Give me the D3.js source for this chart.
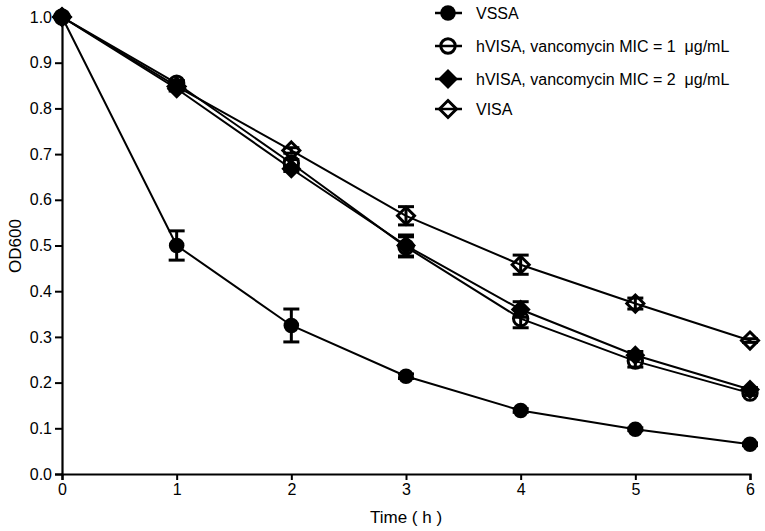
<!DOCTYPE html>
<html>
<head>
<meta charset="utf-8">
<script src="https://cdn.jsdelivr.net/npm/d3@7"></script>
<style>
  body { margin: 0; background: #fff; }
  svg { display: block; }
  text { font-family: "Liberation Sans", Arial, sans-serif; fill: #000; }
</style>
</head>
<body>
<svg id="chart" width="765" height="531"></svg>
<script>
const times = [0, 1, 2, 3, 4, 5, 6];
const xTicks = [0, 1, 2, 3, 4, 5, 6];
const yTicks = [0.0, 0.1, 0.2, 0.3, 0.4, 0.5, 0.6, 0.7, 0.8, 0.9, 1.0];

const seriesNames = ["VSSA", "hVISA, vancomycin MIC = 1 \u00a0\u03bcg/mL", "hVISA, vancomycin MIC = 2 \u00a0\u03bcg/mL", "VISA"];
const seriesSymbols = ["circleFilled", "circleOpen", "diamondFilled", "diamondOpen"];

const vssaValues   = [1.0, 0.500, 0.325, 0.214, 0.139, 0.098, 0.065];
const vssaErrors   = [0, 0.032, 0.036, 0.005, 0.004, 0.003, 0.003];
const mic1Values   = [1.0, 0.855, 0.680, 0.497, 0.340, 0.247, 0.177];
const mic1Errors   = [0, 0.006, 0.008, 0.022, 0.020, 0.013, 0.005];
const mic2Values   = [1.0, 0.843, 0.668, 0.500, 0.360, 0.260, 0.185];
const mic2Errors   = [0, 0.005, 0.006, 0.023, 0.017, 0.008, 0.004];
const visaValues   = [1.0, 0.848, 0.708, 0.565, 0.458, 0.373, 0.292];
const visaErrors   = [0, 0.005, 0.006, 0.020, 0.021, 0.012, 0.004];

const seriesValues = [vssaValues, mic1Values, mic2Values, visaValues];
const seriesErrors = [vssaErrors, mic1Errors, mic2Errors, visaErrors];

const svg = d3.select("#chart");
const x = d3.scaleLinear().domain([0, 6]).range([62, 750]);
const y = d3.scaleLinear().domain([0, 1]).range([474, 17]);

// Axes
const xAxis = svg.append("g").attr("transform", "translate(0,474)")
  .call(d3.axisBottom(x).tickValues(xTicks).tickFormat(d3.format("d")).tickSizeOuter(0).tickSize(6).tickPadding(4));
const yAxis = svg.append("g").attr("transform", "translate(62,0)")
  .call(d3.axisLeft(y).tickValues(yTicks).tickFormat(d3.format(".1f")).tickSizeOuter(0).tickSize(7).tickPadding(3));
[xAxis, yAxis].forEach(a => {
  a.select(".domain").attr("stroke", "#000").attr("stroke-width", 2.2);
  a.selectAll(".tick line").attr("stroke", "#000").attr("stroke-width", 2);
  a.selectAll(".tick text").style("font-size", "16px").style("font-family", "Liberation Sans, Arial, sans-serif").attr("fill", "#000");
});

// Axis titles
svg.append("text").attr("x", 406).attr("y", 523).attr("text-anchor", "middle")
  .style("font-size", "17px").text("Time ( h )");
svg.append("text").attr("transform", "translate(21,246) rotate(-90)").attr("text-anchor", "middle")
  .style("font-size", "17px").text("OD600");

// Symbol drawing
function drawSymbol(g, type, cx, cy) {
  if (type.startsWith("circle")) {
    g.append("circle").attr("cx", cx).attr("cy", cy).attr("r", type === "circleFilled" ? 7.8 : 7.2)
      .attr("fill", type === "circleFilled" ? "#000" : "none")
      .attr("stroke", "#000").attr("stroke-width", type === "circleFilled" ? 0 : 3);
  } else {
    const s = type === "diamondFilled" ? 10 : 8.5;
    const pts = [[cx, cy - s], [cx + s, cy], [cx, cy + s], [cx - s, cy]];
    g.append("path").attr("d", "M" + pts.map(p => p.join(",")).join("L") + "Z")
      .attr("fill", type === "diamondFilled" ? "#000" : "none")
      .attr("stroke", "#000").attr("stroke-width", type === "diamondFilled" ? 0 : 3)
      .attr("stroke-linejoin", "miter");
  }
}

const line = d3.line().x((d, i) => x(times[i])).y(d => y(d));

// Lines
seriesValues.forEach(vals => {
  svg.append("path").datum(vals).attr("d", line)
    .attr("fill", "none").attr("stroke", "#000").attr("stroke-width", 2);
});

// Error bars
seriesValues.forEach((vals, si) => {
  const g = svg.append("g");
  vals.forEach((v, i) => {
    const e = seriesErrors[si][i];
    if (e <= 0) return;
    const cx = x(times[i]);
    const yt = y(v + e), yb = y(v - e);
    g.append("line").attr("x1", cx).attr("x2", cx).attr("y1", yt).attr("y2", yb)
      .attr("stroke", "#000").attr("stroke-width", 3);
    [yt, yb].forEach(yy => g.append("line").attr("x1", cx - 8).attr("x2", cx + 8).attr("y1", yy).attr("y2", yy)
      .attr("stroke", "#000").attr("stroke-width", 3));
  });
});

// Markers
seriesValues.forEach((vals, si) => {
  const g = svg.append("g");
  vals.forEach((v, i) => drawSymbol(g, seriesSymbols[si], x(times[i]), y(v)));
});

// Legend
const legendY = [13, 46, 79, 109];
seriesNames.forEach((name, i) => {
  const g = svg.append("g");
  g.append("line").attr("x1", 435).attr("x2", 462).attr("y1", legendY[i]).attr("y2", legendY[i])
    .attr("stroke", "#000").attr("stroke-width", 2.5);
  drawSymbol(g, seriesSymbols[i], 448, legendY[i]);
  g.append("text").attr("x", 476).attr("y", legendY[i] + 5.5).style("font-size", "16px").text(name);
});
</script>
</body>
</html>
